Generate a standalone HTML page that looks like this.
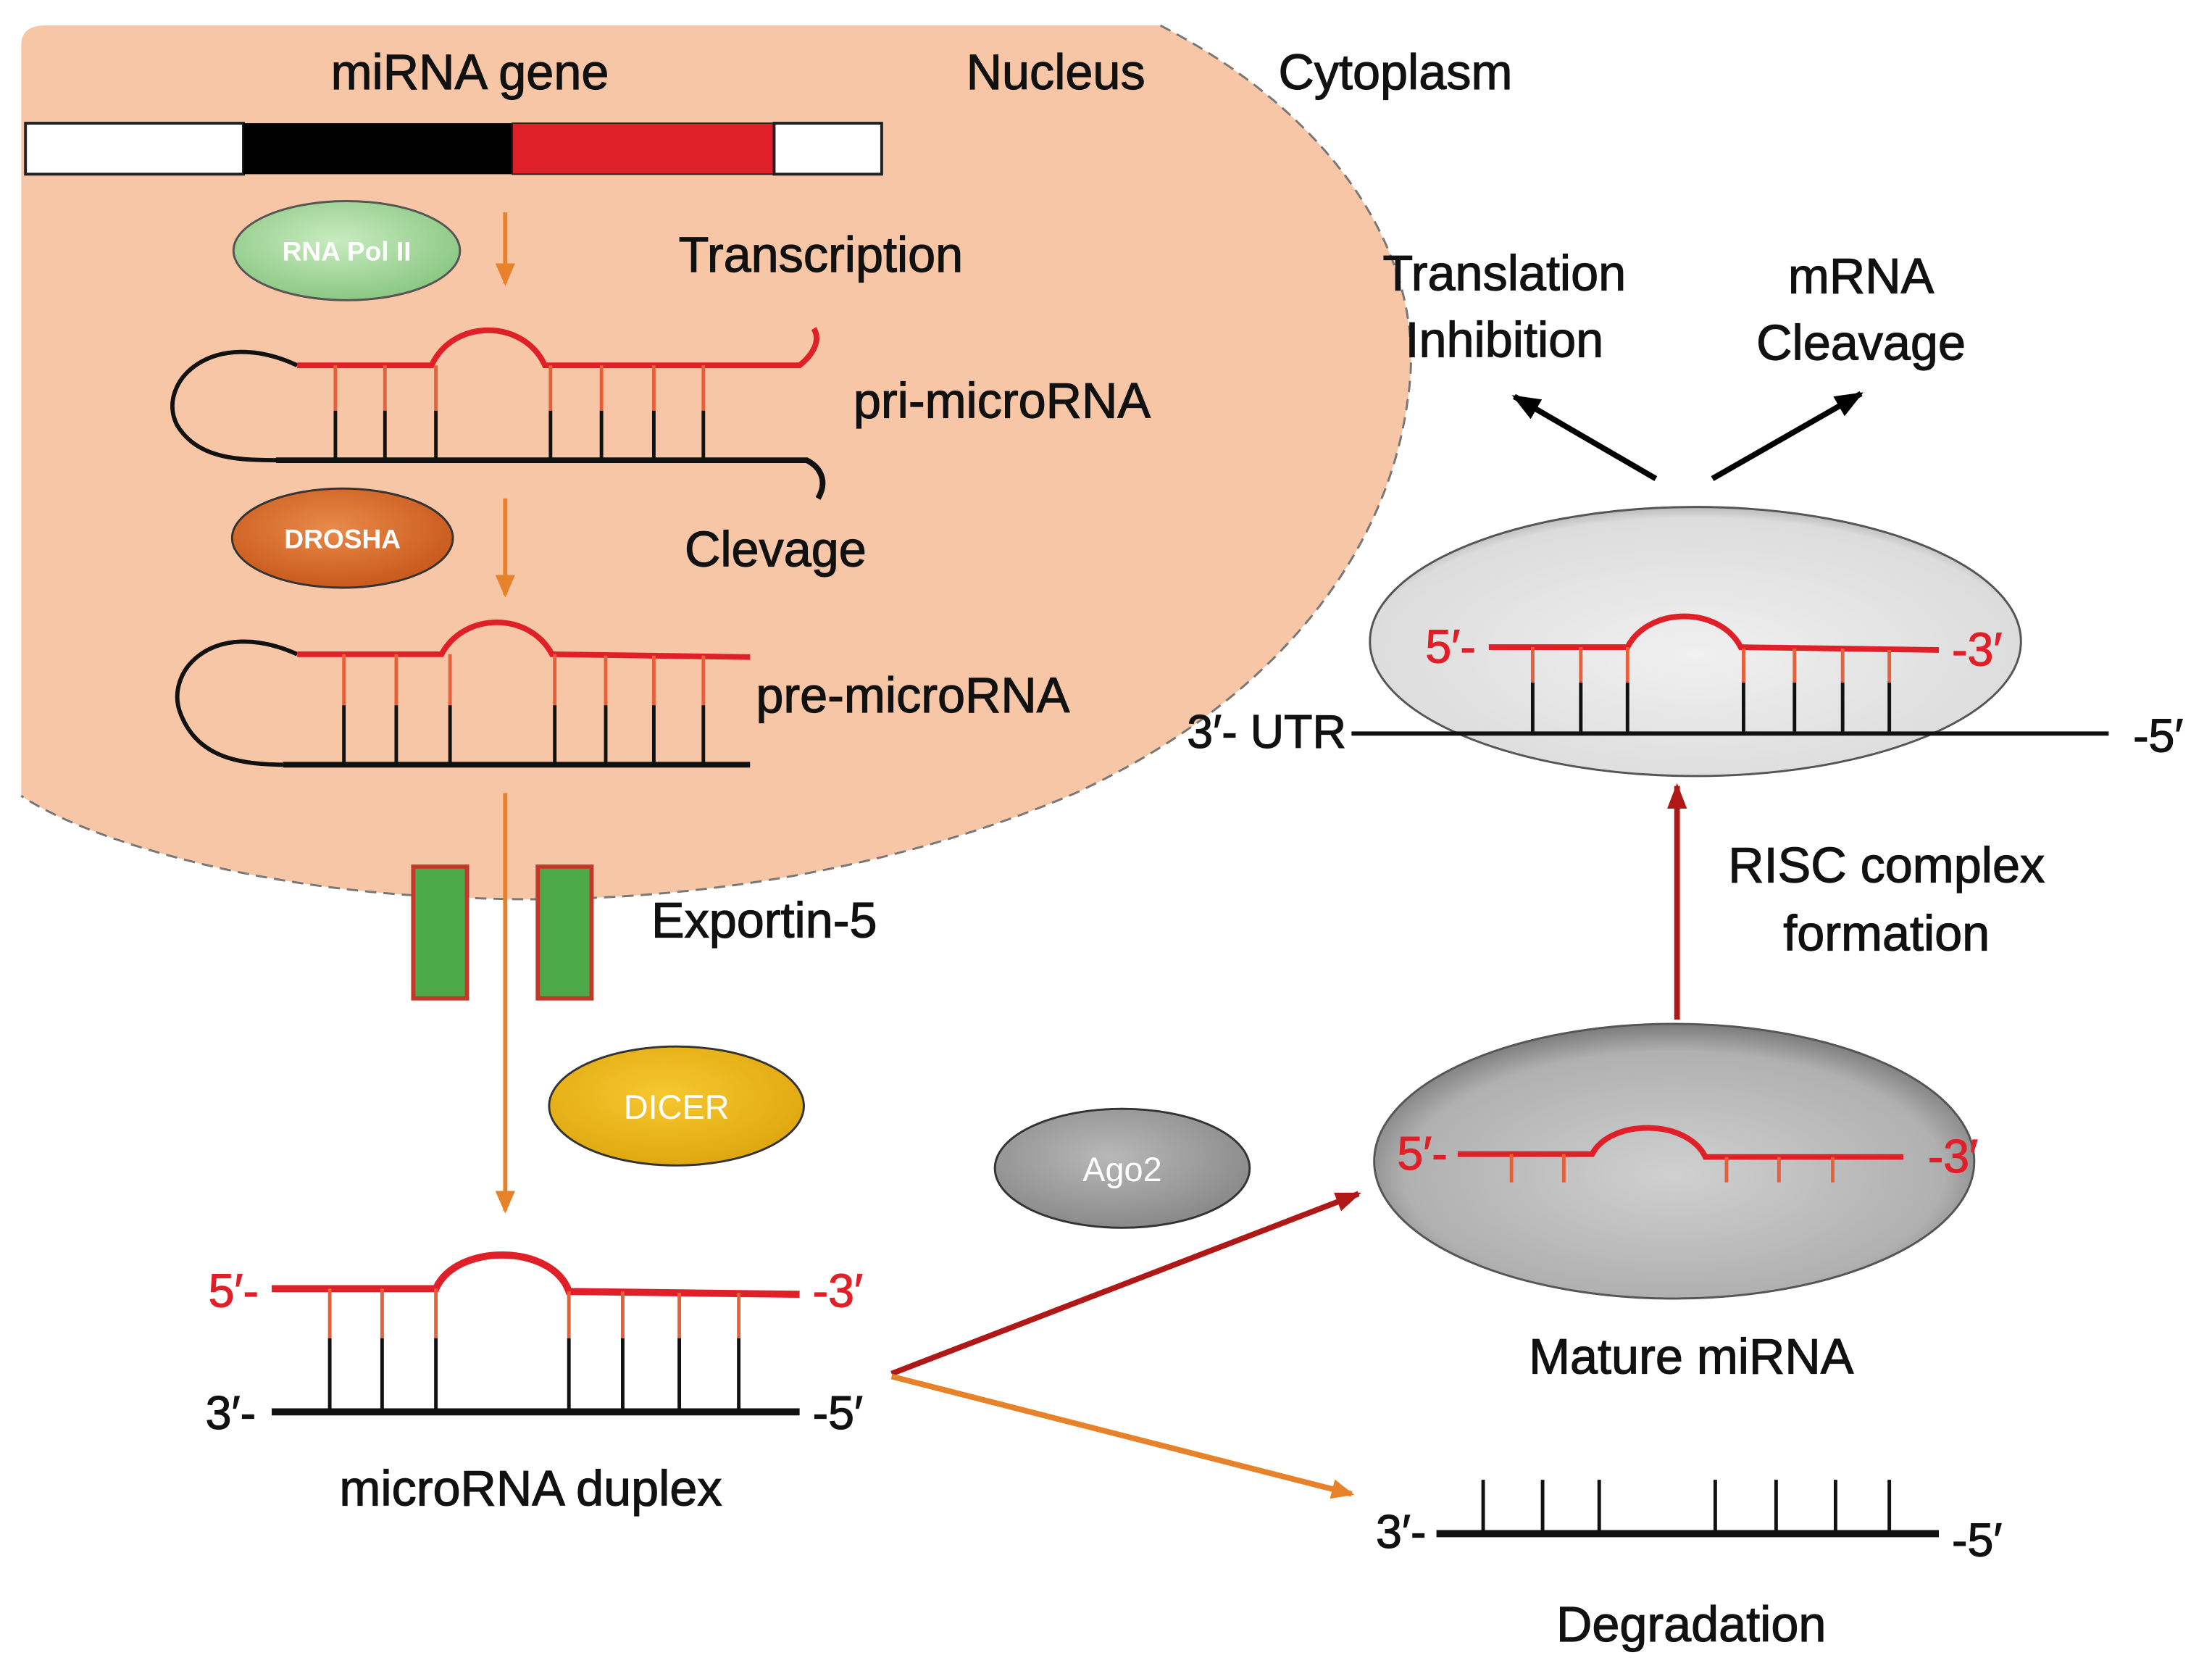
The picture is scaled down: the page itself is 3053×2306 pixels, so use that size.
<!DOCTYPE html>
<html><head><meta charset="utf-8"><style>
html,body{margin:0;padding:0;background:#fff;}
svg{display:block;}
text{font-family:"Liberation Sans",sans-serif;}
</style></head><body>
<svg width="3053" height="2306" viewBox="0 0 1563 1180" preserveAspectRatio="none" xmlns="http://www.w3.org/2000/svg">
<defs>
<radialGradient id="gg" cx="0.45" cy="0.4" r="0.6"><stop offset="0" stop-color="#c8ecc0"/><stop offset="1" stop-color="#8cc884"/></radialGradient>
<radialGradient id="og" cx="0.45" cy="0.4" r="0.6"><stop offset="0" stop-color="#e98a4a"/><stop offset="1" stop-color="#c85a1c"/></radialGradient>
<radialGradient id="yg" cx="0.45" cy="0.4" r="0.6"><stop offset="0" stop-color="#f6c830"/><stop offset="1" stop-color="#e0a810"/></radialGradient>
<radialGradient id="ag" cx="0.45" cy="0.4" r="0.6"><stop offset="0" stop-color="#b8b8b8"/><stop offset="1" stop-color="#8a8a8a"/></radialGradient>
<radialGradient id="mg" cx="0.5" cy="0.55" r="0.6"><stop offset="0" stop-color="#d0d0d0"/><stop offset="0.75" stop-color="#b0b0b0"/><stop offset="1" stop-color="#606060"/></radialGradient>
<radialGradient id="rg" cx="0.5" cy="0.55" r="0.6"><stop offset="0" stop-color="#f0f0f0"/><stop offset="0.85" stop-color="#dcdcdc"/><stop offset="1" stop-color="#909090"/></radialGradient>
<marker id="ao2" markerWidth="16" markerHeight="14" refX="14" refY="7" orient="auto" markerUnits="userSpaceOnUse"><path d="M0,0 L16,7 L0,14 z" fill="#e8822a"/></marker>
<marker id="ar" markerWidth="18" markerHeight="14" refX="16" refY="7" orient="auto" markerUnits="userSpaceOnUse"><path d="M0,0 L18,7 L0,14 z" fill="#b01818"/></marker>
<marker id="ab" markerWidth="20" markerHeight="16" refX="18" refY="8" orient="auto" markerUnits="userSpaceOnUse"><path d="M0,0 L20,8 L0,16 z" fill="#000"/></marker>
</defs>
<path d="M15,32 Q15,18 32,18 L820,18 C940,80 1010,180 995,280 C980,400 890,500 760,560 C620,620 460,640 330,634 C180,630 60,592 15,562 Z" fill="#f6c6a6" stroke="none"/>
<path d="M820,18 C940,80 1010,180 995,280 C980,400 890,500 760,560 C620,620 460,640 330,634 C180,630 60,592 15,562" fill="none" stroke="#777" stroke-width="1.5" stroke-dasharray="8,5"/>
<g font-size="35" fill="#111" text-anchor="middle" stroke="#111" stroke-width="0.6">
<text x="332" y="63">miRNA gene</text>
<text x="746" y="63">Nucleus</text>
<text x="986" y="63">Cytoplasm</text>
<text x="580" y="192">Transcription</text>
<text x="708" y="295">pri-microRNA</text>
<text x="548" y="400">Clevage</text>
<text x="645" y="503">pre-microRNA</text>
<text x="540" y="662">Exportin-5</text>
<text x="375" y="1063">microRNA duplex</text>
<text x="1195" y="970">Mature miRNA</text>
<text x="1333" y="623">RISC complex</text>
<text x="1333" y="671">formation</text>
<text x="1063" y="205">Translation</text>
<text x="1063" y="252">Inhibition</text>
<text x="1315" y="207">mRNA</text>
<text x="1315" y="254">Cleavage</text>
<text x="1195" y="1159">Degradation</text>
</g>
<rect x="18" y="87" width="154" height="36" fill="#fff" stroke="#222" stroke-width="2"/>
<rect x="172" y="87" width="190" height="36" fill="#000"/>
<rect x="362" y="87" width="185" height="36" fill="#e02028" stroke="#222" stroke-width="1"/>
<rect x="547" y="87" width="76" height="36" fill="#fff" stroke="#222" stroke-width="2"/>
<ellipse cx="245" cy="177" rx="80" ry="35" fill="url(#gg)" stroke="#555" stroke-width="1.5"/>
<text x="245" y="184" font-size="19" font-weight="bold" fill="#fff" text-anchor="middle">RNA Pol II</text>
<ellipse cx="242" cy="380" rx="78" ry="35" fill="url(#og)" stroke="#333" stroke-width="1.5"/>
<text x="242" y="387" font-size="19" font-weight="bold" fill="#fff" text-anchor="middle">DROSHA</text>
<ellipse cx="478" cy="781" rx="90" ry="42" fill="url(#yg)" stroke="#333" stroke-width="1.5"/>
<text x="478" y="790" font-size="24" fill="#fff" text-anchor="middle">DICER</text>
<ellipse cx="793" cy="825" rx="90" ry="42" fill="url(#ag)" stroke="#333" stroke-width="1.5"/>
<text x="793" y="834" font-size="24" fill="#fff" text-anchor="middle">Ago2</text>
<g stroke="#e8822a" stroke-width="3" fill="none">
<line x1="357" y1="150" x2="357" y2="200" marker-end="url(#ao2)"/>
<line x1="357" y1="352" x2="357" y2="420" marker-end="url(#ao2)"/>
<line x1="357" y1="560" x2="357" y2="855" marker-end="url(#ao2)"/>
</g>
<rect x="292" y="612" width="38" height="93" fill="#4caa48" stroke="#c0392b" stroke-width="3"/>
<rect x="380" y="612" width="38" height="93" fill="#4caa48" stroke="#c0392b" stroke-width="3"/>
<path d="M210,258 C150,230 110,270 125,300 C140,325 170,325 200,325" fill="none" stroke="#111" stroke-width="3"/>
<path d="M210,258 L305,258 C320,225 370,225 385,258 L565,258 C575,250 580,240 575,232" fill="none" stroke="#e02028" stroke-width="4"/>
<path d="M195,325 L570,325 C580,330 585,340 578,352" fill="none" stroke="#111" stroke-width="4"/>
<g stroke-width="2.5">
<g stroke="#e8603a"><line x1="237" y1="258" x2="237" y2="290"/><line x1="272" y1="258" x2="272" y2="290"/><line x1="308" y1="258" x2="308" y2="290"/><line x1="389" y1="258" x2="389" y2="290"/><line x1="425" y1="258" x2="425" y2="290"/><line x1="462" y1="258" x2="462" y2="290"/><line x1="497" y1="258" x2="497" y2="290"/></g>
<g stroke="#111"><line x1="237" y1="290" x2="237" y2="325"/><line x1="272" y1="290" x2="272" y2="325"/><line x1="308" y1="290" x2="308" y2="325"/><line x1="389" y1="290" x2="389" y2="325"/><line x1="425" y1="290" x2="425" y2="325"/><line x1="462" y1="290" x2="462" y2="325"/><line x1="497" y1="290" x2="497" y2="325"/></g>
</g>
<path d="M210,462 C150,435 115,475 128,505 C140,535 170,540 200,540" fill="none" stroke="#111" stroke-width="3"/>
<path d="M210,462 L312,462 C328,432 374,432 390,462 L530,464" fill="none" stroke="#e02028" stroke-width="4"/>
<line x1="200" y1="540" x2="530" y2="540" stroke="#111" stroke-width="4"/>
<g stroke-width="2.5">
<g stroke="#e8603a"><line x1="243" y1="462" x2="243" y2="498"/><line x1="280" y1="462" x2="280" y2="498"/><line x1="318" y1="462" x2="318" y2="498"/><line x1="392" y1="462" x2="392" y2="498"/><line x1="428" y1="463" x2="428" y2="498"/><line x1="462" y1="463" x2="462" y2="498"/><line x1="497" y1="463" x2="497" y2="498"/></g>
<g stroke="#111"><line x1="243" y1="498" x2="243" y2="540"/><line x1="280" y1="498" x2="280" y2="540"/><line x1="318" y1="498" x2="318" y2="540"/><line x1="392" y1="498" x2="392" y2="540"/><line x1="428" y1="498" x2="428" y2="540"/><line x1="462" y1="498" x2="462" y2="540"/><line x1="497" y1="498" x2="497" y2="540"/></g>
</g>
<path d="M192,910 L308,910 C322,878 390,878 402,912 L565,914" fill="none" stroke="#e02028" stroke-width="5"/>
<line x1="192" y1="997" x2="565" y2="997" stroke="#111" stroke-width="5"/>
<g stroke-width="2.5">
<g stroke="#e8603a"><line x1="233" y1="910" x2="233" y2="945"/><line x1="270" y1="910" x2="270" y2="945"/><line x1="308" y1="910" x2="308" y2="945"/><line x1="402" y1="912" x2="402" y2="945"/><line x1="440" y1="912" x2="440" y2="945"/><line x1="480" y1="913" x2="480" y2="945"/><line x1="522" y1="913" x2="522" y2="945"/></g>
<g stroke="#111"><line x1="233" y1="945" x2="233" y2="997"/><line x1="270" y1="945" x2="270" y2="997"/><line x1="308" y1="945" x2="308" y2="997"/><line x1="402" y1="945" x2="402" y2="997"/><line x1="440" y1="945" x2="440" y2="997"/><line x1="480" y1="945" x2="480" y2="997"/><line x1="522" y1="945" x2="522" y2="997"/></g>
</g>
<g font-size="33" text-anchor="middle" stroke-width="0.6">
<text x="165" y="923" fill="#e02028" stroke="#e02028">5′-</text>
<text x="592" y="923" fill="#e02028" stroke="#e02028">-3′</text>
<text x="163" y="1009" fill="#111" stroke="#111">3′-</text>
<text x="592" y="1009" fill="#111" stroke="#111">-5′</text>
</g>
<line x1="630" y1="970" x2="960" y2="843" stroke="#b01818" stroke-width="4" marker-end="url(#ar)"/>
<line x1="630" y1="972" x2="955" y2="1055" stroke="#e8822a" stroke-width="4" marker-end="url(#ao2)"/>
<ellipse cx="1183" cy="820" rx="212" ry="97" fill="url(#mg)" stroke="#555" stroke-width="1.5"/>
<path d="M1030,815 L1125,815 C1138,790 1192,790 1205,817 L1345,817" fill="none" stroke="#e02028" stroke-width="4"/>
<g stroke="#e8603a" stroke-width="2.5"><line x1="1068" y1="815" x2="1068" y2="835"/><line x1="1105" y1="815" x2="1105" y2="835"/><line x1="1220" y1="817" x2="1220" y2="835"/><line x1="1257" y1="817" x2="1257" y2="835"/><line x1="1295" y1="817" x2="1295" y2="835"/></g>
<line x1="1185" y1="720" x2="1185" y2="555" stroke="#b01818" stroke-width="4" marker-end="url(#ar)"/>
<ellipse cx="1198" cy="453" rx="230" ry="95" fill="url(#rg)" stroke="#555" stroke-width="1.5"/>
<g font-size="33" text-anchor="middle" fill="#e02028" stroke="#e02028" stroke-width="0.6">
<text x="1005" y="826">5′-</text>
<text x="1380" y="828">-3′</text>
<text x="1025" y="468">5′-</text>
<text x="1397" y="470">-3′</text>
</g>
<path d="M1052,457 L1150,457 C1165,428 1215,428 1230,457 L1370,459" fill="none" stroke="#e02028" stroke-width="4"/>
<g stroke-width="2.5">
<g stroke="#e8603a"><line x1="1083" y1="457" x2="1083" y2="482"/><line x1="1117" y1="457" x2="1117" y2="482"/><line x1="1150" y1="457" x2="1150" y2="482"/><line x1="1232" y1="458" x2="1232" y2="482"/><line x1="1268" y1="458" x2="1268" y2="482"/><line x1="1302" y1="458" x2="1302" y2="482"/><line x1="1335" y1="459" x2="1335" y2="482"/></g>
<g stroke="#111"><line x1="1083" y1="482" x2="1083" y2="518"/><line x1="1117" y1="482" x2="1117" y2="518"/><line x1="1150" y1="482" x2="1150" y2="518"/><line x1="1232" y1="482" x2="1232" y2="518"/><line x1="1268" y1="482" x2="1268" y2="518"/><line x1="1302" y1="482" x2="1302" y2="518"/><line x1="1335" y1="482" x2="1335" y2="518"/></g>
</g>
<line x1="955" y1="518" x2="1490" y2="518" stroke="#111" stroke-width="3"/>
<g font-size="33" text-anchor="middle" fill="#111" stroke="#111" stroke-width="0.6">
<text x="895" y="528">3′- UTR</text>
<text x="1525" y="531">-5′</text>
<text x="990" y="1093">3′-</text>
<text x="1397" y="1099">-5′</text>
</g>
<line x1="1170" y1="338" x2="1070" y2="280" stroke="#000" stroke-width="4" marker-end="url(#ab)"/>
<line x1="1210" y1="338" x2="1315" y2="278" stroke="#000" stroke-width="4" marker-end="url(#ab)"/>
<line x1="1015" y1="1083" x2="1370" y2="1083" stroke="#111" stroke-width="5"/>
<g stroke="#111" stroke-width="2.5"><line x1="1048" y1="1045" x2="1048" y2="1083"/><line x1="1090" y1="1045" x2="1090" y2="1083"/><line x1="1130" y1="1045" x2="1130" y2="1083"/><line x1="1212" y1="1045" x2="1212" y2="1083"/><line x1="1255" y1="1045" x2="1255" y2="1083"/><line x1="1297" y1="1045" x2="1297" y2="1083"/><line x1="1335" y1="1045" x2="1335" y2="1083"/></g>
</svg>
</body></html>
